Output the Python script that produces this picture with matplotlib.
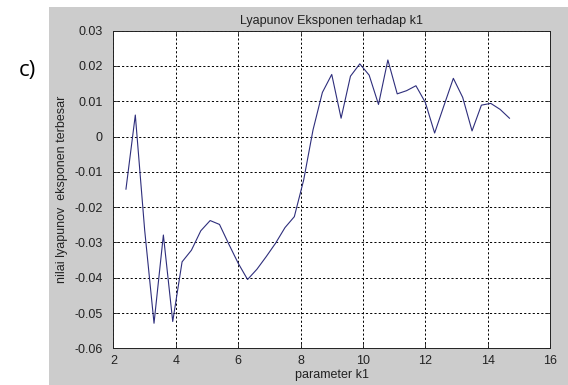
import matplotlib
matplotlib.use("Agg")
import matplotlib.pyplot as plt
from matplotlib.patches import Rectangle

# Parameter sweep of k1 and the largest Lyapunov exponent found for each value
k1 = [2.4, 2.7, 3.0, 3.3, 3.6, 3.9, 4.2, 4.5, 4.8, 5.1, 5.4, 5.7, 6.0, 6.3,
      6.6, 6.9, 7.2, 7.5, 7.8, 8.1, 8.4, 8.7, 9.0, 9.3, 9.6, 9.9, 10.2, 10.5,
      10.8, 11.1, 11.4, 11.7, 12.0, 12.3, 12.6, 12.9, 13.2, 13.5, 13.8, 14.1,
      14.4, 14.7]
lyap_max = [-0.0149, 0.0061, -0.0265, -0.0529, -0.0279, -0.0524, -0.0355,
            -0.0322, -0.0267, -0.0238, -0.0249, -0.0305, -0.0359, -0.0405,
            -0.0376, -0.0340, -0.0302, -0.0258, -0.0227, -0.0123, 0.0019,
            0.0125, 0.0176, 0.0052, 0.0171, 0.0206, 0.0174, 0.0091, 0.0217,
            0.0121, 0.0130, 0.0144, 0.0097, 0.0010, 0.0088, 0.0165, 0.0111,
            0.0016, 0.0089, 0.0094, 0.0077, 0.0052]

x_ticks = [2, 4, 6, 8, 10, 12, 14, 16]
y_ticks = [-0.06, -0.05, -0.04, -0.03, -0.02, -0.01, 0, 0.01, 0.02, 0.03]
y_tick_labels = ["-0.06", "-0.05", "-0.04", "-0.03", "-0.02", "-0.01", "0",
                 "0.01", "0.02", "0.03"]

plt.rcParams["font.family"] = ["Liberation Sans", "DejaVu Sans"]

fig = plt.figure(figsize=(5.68, 3.85), dpi=100, facecolor="white")

# grey figure panel behind the axes
fig.patches.append(Rectangle((0.0863, 0.0), 0.9137, 0.983,
                             transform=fig.transFigure, facecolor="#cccccc",
                             edgecolor="none", zorder=-10))

ax = fig.add_axes([0.1998, 0.0953, 0.7685, 0.8250])
ax.set_zorder(5)
ax.set_facecolor("white")
ax.plot(k1, lyap_max, color="#2e2e7c", lw=0.8)

ax.set_xlim(2, 16)
ax.set_ylim(-0.06, 0.03)
ax.set_xticks(x_ticks)
ax.set_xticklabels([str(t) for t in x_ticks])
ax.set_yticks(y_ticks)
ax.set_yticklabels(y_tick_labels)

ax.grid(True, color="black", linestyle=(0, (2.2, 2.2)), linewidth=0.7)
ax.tick_params(direction="in", length=3.5, width=0.6, labelsize=9,
               top=True, right=True, colors="#222222")
ax.tick_params(axis="x", pad=4.5)
ax.tick_params(axis="y", pad=8)
for s in ax.spines.values():
    s.set_linewidth(0.7)
    s.set_color("#222222")

ax.set_title("Lyapunov Eksponen terhadap k1", fontsize=9, color="#222222",
             pad=5)
ax.set_xlabel("parameter k1", fontsize=9, color="#222222", labelpad=2)
ax.set_ylabel("nilai lyapunov  eksponen terbesar", fontsize=9,
              color="#222222", labelpad=4)

fig.text(0.049, 0.818, "c)", fontsize=16, family=["Open Sans", "DejaVu Sans"],
         ha="center", va="center", color="black")

fig.savefig("out.png", dpi=100, facecolor="white")
